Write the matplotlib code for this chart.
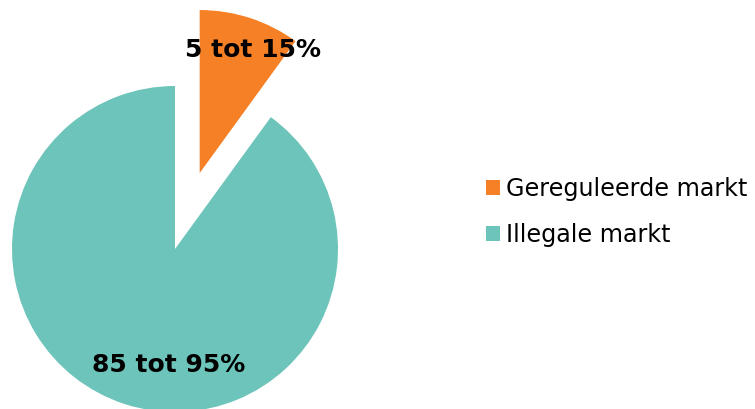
import matplotlib.pyplot as plt
from matplotlib.patches import Patch

# shares (midpoints of the ranges)
categories = ['Gereguleerde markt', 'Illegale markt']
shares = [10, 90]
labels = ['5 tot 15%', '85 tot 95%']
colors = ['#F58025', '#6CC4BA']

fig = plt.figure(figsize=(7.55, 4.09), dpi=100)
ax = fig.add_axes([0, 0, 1, 1])

R = 163.0  # pixels per unit radius
cx, cy = 175, 249  # pie centre in pixels from top-left

wedges, _ = ax.pie(shares, colors=colors, startangle=90, counterclock=False,
                   explode=[0.49, 0], radius=1.0, frame=True)
ax.set_xlim(-cx / R, (755 - cx) / R)
ax.set_ylim(-(409 - cy) / R, cy / R)
ax.set_aspect('equal')
ax.axis('off')

# labels
ax.text(78 / R, 199 / R, labels[0], ha='center', va='center',
        fontsize=18, fontweight='bold', color='black')
ax.text(-6 / R, -116 / R, labels[1], ha='center', va='center',
        fontsize=18, fontweight='bold', color='black')

handles = [Patch(facecolor=c, edgecolor='none') for c in colors]
ax.legend(handles, categories, loc='center left', bbox_to_anchor=(0.615, 0.482),
          frameon=False, fontsize=17.2, handlelength=0.6, handleheight=0.6,
          handletextpad=0.25, labelspacing=0.95)

fig.savefig('out.png', dpi=100)
